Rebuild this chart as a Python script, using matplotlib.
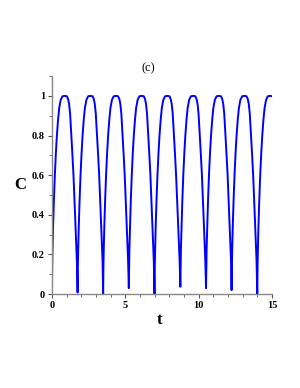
import matplotlib
matplotlib.use("Agg")
import matplotlib.pyplot as plt
from matplotlib.ticker import MultipleLocator

# values, one hump at a time (min -> top -> next min)
t1 = [0.00, 0.02, 0.04, 0.08, 0.13, 0.20, 0.27, 0.34, 0.42, 0.50, 0.60, 0.72, 0.87, 1.02, 1.10, 1.17, 1.24, 1.31, 1.40, 1.47, 1.58, 1.66, 1.70]
c1 = [0.000, 0.14, 0.22, 0.34, 0.46, 0.60, 0.71, 0.80, 0.88, 0.94, 0.98, 0.998, 1.0, 0.998, 0.985, 0.96, 0.91, 0.82, 0.70, 0.60, 0.40, 0.26, 0.17]
t2 = [1.75, 1.77, 1.79, 1.83, 1.88, 1.95, 2.02, 2.09, 2.17, 2.25, 2.35, 2.47, 2.62, 2.77, 2.85, 2.92, 2.99, 3.06, 3.15, 3.22, 3.33, 3.41, 3.45]
c2 = [0.008, 0.14, 0.22, 0.34, 0.46, 0.60, 0.71, 0.80, 0.88, 0.94, 0.98, 0.998, 1.0, 0.998, 0.985, 0.96, 0.91, 0.82, 0.70, 0.60, 0.40, 0.26, 0.17]
t3 = [3.49, 3.51, 3.53, 3.57, 3.62, 3.69, 3.76, 3.83, 3.91, 3.99, 4.09, 4.21, 4.36, 4.51, 4.59, 4.66, 4.73, 4.80, 4.89, 4.96, 5.07, 5.15, 5.19]
c3 = [0.000, 0.14, 0.22, 0.34, 0.46, 0.60, 0.71, 0.80, 0.88, 0.94, 0.98, 0.998, 1.0, 0.998, 0.985, 0.96, 0.91, 0.82, 0.70, 0.60, 0.40, 0.26, 0.17]
t4 = [5.24, 5.26, 5.28, 5.32, 5.37, 5.44, 5.51, 5.58, 5.66, 5.74, 5.84, 5.96, 6.11, 6.26, 6.34, 6.41, 6.48, 6.55, 6.64, 6.71, 6.82, 6.90, 6.94]
c4 = [0.030, 0.15, 0.23, 0.34, 0.46, 0.60, 0.71, 0.80, 0.88, 0.94, 0.98, 0.998, 1.0, 0.998, 0.985, 0.96, 0.91, 0.82, 0.70, 0.60, 0.40, 0.26, 0.17]
t5 = [6.99, 7.01, 7.03, 7.07, 7.12, 7.19, 7.26, 7.33, 7.41, 7.49, 7.59, 7.71, 7.86, 8.01, 8.09, 8.16, 8.23, 8.30, 8.39, 8.46, 8.57, 8.65, 8.70]
c5 = [0.000, 0.14, 0.22, 0.34, 0.46, 0.60, 0.71, 0.80, 0.88, 0.94, 0.98, 0.998, 1.0, 0.998, 0.985, 0.96, 0.91, 0.82, 0.70, 0.60, 0.40, 0.26, 0.17]
t6 = [8.75, 8.77, 8.79, 8.83, 8.88, 8.95, 9.02, 9.09, 9.17, 9.25, 9.35, 9.47, 9.62, 9.77, 9.85, 9.92, 9.99, 10.06, 10.15, 10.22, 10.33, 10.41, 10.45]
c6 = [0.037, 0.15, 0.23, 0.34, 0.46, 0.60, 0.71, 0.80, 0.88, 0.94, 0.98, 0.998, 1.0, 0.998, 0.985, 0.96, 0.91, 0.82, 0.70, 0.60, 0.40, 0.26, 0.17]
t7 = [10.50, 10.52, 10.54, 10.58, 10.63, 10.70, 10.77, 10.84, 10.92, 11.00, 11.10, 11.22, 11.37, 11.52, 11.60, 11.67, 11.74, 11.81, 11.90, 11.97, 12.08, 12.16, 12.20]
c7 = [0.030, 0.15, 0.23, 0.34, 0.46, 0.60, 0.71, 0.80, 0.88, 0.94, 0.98, 0.998, 1.0, 0.998, 0.985, 0.96, 0.91, 0.82, 0.70, 0.60, 0.40, 0.26, 0.17]
t8 = [12.24, 12.26, 12.28, 12.32, 12.37, 12.44, 12.51, 12.58, 12.66, 12.74, 12.84, 12.96, 13.11, 13.26, 13.34, 13.41, 13.48, 13.55, 13.64, 13.71, 13.82, 13.90, 13.94]
c8 = [0.020, 0.14, 0.22, 0.34, 0.46, 0.60, 0.71, 0.80, 0.88, 0.94, 0.98, 0.998, 1.0, 0.998, 0.985, 0.96, 0.91, 0.82, 0.70, 0.60, 0.40, 0.26, 0.17]
t9 = [13.99, 14.01, 14.03, 14.07, 14.12, 14.19, 14.26, 14.33, 14.41, 14.49, 14.59, 14.71, 14.86, 15.00]
c9 = [0.000, 0.14, 0.22, 0.34, 0.46, 0.60, 0.71, 0.80, 0.88, 0.94, 0.98, 0.998, 1.0, 0.998]

t = t1 + t2 + t3 + t4 + t5 + t6 + t7 + t8 + t9
C = c1 + c2 + c3 + c4 + c5 + c6 + c7 + c8 + c9

xticks = [0, 5, 10, 15]
yticks = [0, 0.2, 0.4, 0.6, 0.8, 1]

plt.rcParams['font.family'] = ['Liberation Serif', 'DejaVu Serif']

fig = plt.figure(figsize=(3.0, 3.88), dpi=100)
ax = fig.add_axes([0.173, 0.242, 0.734, 0.562])

ax.plot(t, C, color='#0000ff', lw=1.4, solid_joinstyle='round')

ax.set_xlim(0, 15)
ax.set_ylim(0, 1.1)
ax.set_xticks(xticks)
ax.set_xticklabels([str(v) for v in xticks], fontweight='bold', fontsize=7.5)
ax.set_yticks(yticks)
ax.set_yticklabels(['0', '0.2', '0.4', '0.6', '0.8', '1'], fontweight='bold', fontsize=7.5)
ax.xaxis.set_minor_locator(MultipleLocator(1))
ax.yaxis.set_minor_locator(MultipleLocator(0.1))

for s in ['top', 'right']:
    ax.spines[s].set_visible(False)
for s in ['left', 'bottom']:
    ax.spines[s].set_color('#888888')
    ax.spines[s].set_linewidth(1.0)
ax.tick_params(which='major', length=3, width=0.8, color='#555555', pad=2)
ax.tick_params(which='minor', length=2, width=0.6, color='#555555')

fig.text(0.493, 0.825, '(c)', ha='center', va='center', fontsize=9)
fig.text(0.067, 0.523, 'C', ha='center', va='center', fontsize=12, fontweight='bold')
fig.text(0.533, 0.175, 't', ha='center', va='center', fontsize=12, fontweight='bold')

fig.savefig('out.png', dpi=100)
